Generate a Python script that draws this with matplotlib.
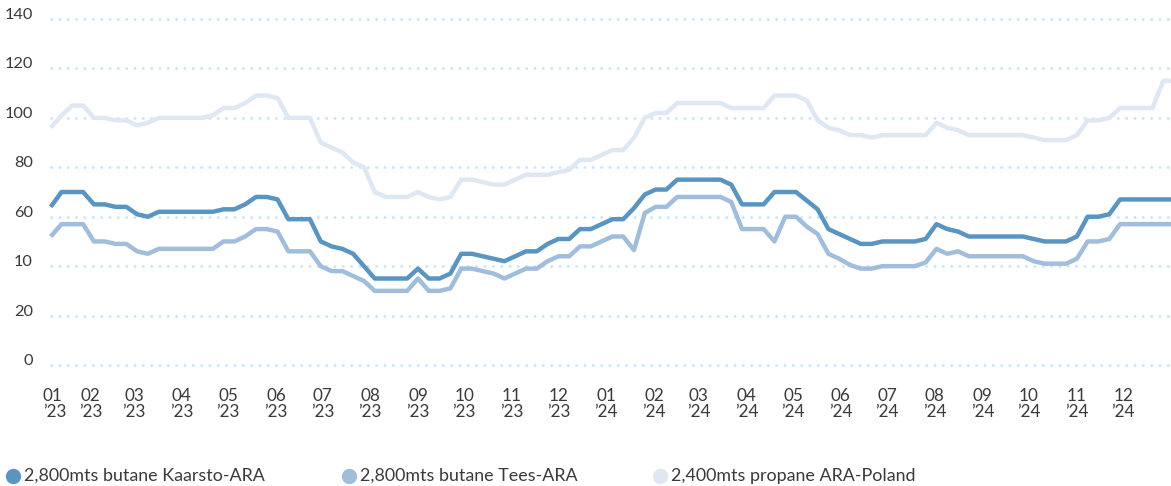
import matplotlib
matplotlib.use("Agg")
import matplotlib.pyplot as plt
import matplotlib.transforms as mtransforms
from matplotlib.lines import Line2D
import pandas as pd

# ---------------- data ----------------
dates = pd.date_range("2023-01-06", periods=105, freq="7D")

kaarsto_ara = [64, 70, 70, 70, 65, 65, 64, 64, 61, 60,
               62, 62, 62, 62, 62, 62, 63, 63, 65, 68,
               68, 67, 59, 59, 59, 50, 48, 47, 45, 40,
               35, 35, 35, 35, 39, 35, 35, 37, 45, 45,
               44, 43, 42, 44, 46, 46, 49, 51, 51, 55,
               55, 57, 59, 59, 63.5, 69, 71, 71, 75, 75,
               75, 75, 75, 73, 65, 65, 65, 70, 70, 70,
               66.5, 63, 55, 53, 51, 49, 49, 50, 50, 50,
               50, 51, 57, 55, 54, 52, 52, 52, 52, 52,
               52, 51, 50, 50, 50, 52, 60, 60, 61, 67,
               67, 67, 67, 67, 67]

tees_ara = [52, 57, 57, 57, 50, 50, 49, 49, 46, 45,
            47, 47, 47, 47, 47, 47, 50, 50, 52, 55,
            55, 54, 46, 46, 46, 40, 38, 38, 36, 34,
            30, 30, 30, 30, 35, 30, 30, 31, 39, 39,
            38, 37, 35, 37, 39, 39, 42, 44, 44, 48,
            48, 50, 52, 52, 46.5, 61.5, 64, 64, 68, 68,
            68, 68, 68, 66, 55, 55, 55, 50, 60, 60,
            56, 53, 45, 43, 40.5, 39, 39, 40, 40, 40,
            40, 41.5, 47, 45, 46, 44, 44, 44, 44, 44,
            44, 42, 41, 41, 41, 43, 50, 50, 51, 57,
            57, 57, 57, 57, 57]

propane_ara_poland = [96, 101, 105, 105, 100, 100, 99, 99, 97, 98,
                      100, 100, 100, 100, 100, 101, 104, 104, 106, 109,
                      109, 108, 100, 100, 100, 90, 88, 86, 82, 80,
                      70, 68, 68, 68, 70, 68, 67, 68, 75, 75,
                      74, 73, 73, 75, 77, 77, 77, 78, 79, 83,
                      83, 85, 87, 87, 92, 100, 102, 102, 106, 106,
                      106, 106, 106, 104, 104, 104, 104, 109, 109, 109,
                      107, 99, 96, 95, 93, 93, 92, 93, 93, 93,
                      93, 93, 98, 96, 95, 93, 93, 93, 93, 93,
                      93, 92, 91, 91, 91, 93, 99, 99, 100, 104,
                      104, 104, 104, 115, 115]

series_names = ["2,800mts butane Kaarsto-ARA",
                "2,800mts butane Tees-ARA",
                "2,400mts propane ARA-Poland"]

y_ticks = [0, 20, 40, 60, 80, 100, 120, 140]
y_tick_labels = ["0", "20", "10", "60", "80", "100", "120", "140"]

month_starts = pd.date_range("2023-01-01", "2024-12-01", freq="MS")
month_labels = [f"{d:%m}\n\u2019{d:%y}" for d in month_starts]

# ---------------- style ----------------
colors = ["#5a95c1", "#a1bddc", "#dfe7f3"]
grid_color = "#c6e5f9"
text_color = "#3a3a3a"
FONT = ["Lato", "DejaVu Sans"]
plt.rcParams["font.family"] = FONT

W, H = 1171, 486
fig = plt.figure(figsize=(W / 100, H / 100), dpi=100)
ax = fig.add_axes([43 / W, 0.2337, (W - 43) / W, 0.7424])

x_left = pd.Timestamp("2023-01-01")
x_right = pd.Timestamp("2025-01-01")

# dotted gridlines
gl = ax.hlines(y_ticks, dates[0], x_right, colors=grid_color,
               linestyles=(0, (0.1, 2.9)), linewidth=2.0, zorder=0)
gl.set_capstyle("round")

series = [kaarsto_ara, tees_ara, propane_ara_poland]
for vals, col, z in zip(series[::-1], colors[::-1], [2, 3, 4]):
    ax.plot(dates, vals, color=col, lw=3.2, solid_joinstyle="round",
            solid_capstyle="butt", zorder=z)

ax.set_xlim(x_left, x_right)
ax.set_ylim(-3, 143)
for s in ax.spines.values():
    s.set_visible(False)

# x ticks
ax.set_xticks(month_starts)
ax.set_xticklabels(month_labels, fontsize=12.3, color=text_color, linespacing=1.05)
ax.tick_params(axis="x", length=0, pad=11)
xl = ax.get_xticklabels()
xl[0].set_horizontalalignment("left")

# y labels (manual, slightly above gridlines)
ax.set_yticks([])
off = mtransforms.ScaledTranslation(-10 / 100, 4 / 100, fig.dpi_scale_trans)
ytrans = mtransforms.blended_transform_factory(ax.transAxes, ax.transData) + off
for yv, lab in zip(y_ticks, y_tick_labels):
    ax.text(0, yv, lab, transform=ytrans, ha="right", va="center",
            fontsize=11.8, color=text_color, clip_on=False)

# legend (manual)
leg_y = 1 - 476 / H
marker_x = [13, 349, 660]
text_x = [24, 360, 671]
for mx, tx, col, name in zip(marker_x, text_x, colors, series_names):
    fig.add_artist(Line2D([mx / W], [leg_y], marker="o", markersize=10,
                          color=col, linestyle="none",
                          transform=fig.transFigure))
    fig.text(tx / W, leg_y, name, ha="left", va="center", fontsize=12.9,
             color=text_color)

fig.savefig("out.png", dpi=100)
